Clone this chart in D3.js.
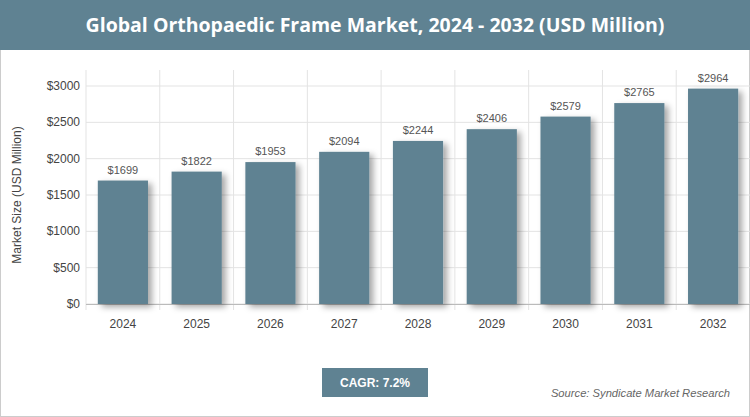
<!DOCTYPE html><html><head><meta charset="utf-8">
<script src="https://cdn.jsdelivr.net/npm/d3@7"></script>
<style>body{margin:0;font-family:"Liberation Sans",Arial,sans-serif}</style></head><body>
<svg id="c" width="750" height="417"></svg>
<script>
const years=["2024","2025","2026","2027","2028","2029","2030","2031","2032"];
const values=[1699,1822,1953,2094,2244,2406,2579,2765,2964];
const yTicks=[0,500,1000,1500,2000,2500,3000];
const title="Global Orthopaedic Frame Market, 2024 - 2032 (USD Million)";
const svg=d3.select("#c");
const col="#5f8292";
svg.append("rect").attr("x",0.5).attr("y",0.5).attr("width",749).attr("height",416).attr("fill","#fff").attr("stroke","#ccc");
svg.append("rect").attr("width",750).attr("height",50).attr("fill",col);
svg.append("text").attr("x",375).attr("y",32).attr("text-anchor","middle").attr("fill","#fff").attr("font-size",19.5).attr("font-family","'Open Sans',sans-serif").attr("font-weight","bold").text(title);
const defs=svg.append("defs");
const f=defs.append("filter").attr("id","sh").attr("x","-20%").attr("y","-20%").attr("width","150%").attr("height","150%");
f.append("feDropShadow").attr("dx",4).attr("dy",3).attr("stdDeviation",3).attr("flood-color","#000").attr("flood-opacity",0.35);
const x=d3.scaleBand().domain(years).range([86,750]).paddingInner(0.32).paddingOuter(0.16);
const xg=d3.scaleBand().domain(years).range([86,750]);
const y=d3.scaleLinear().domain([0,3000]).range([304,86]);
const g=svg.append("g");
yTicks.forEach(t=>{g.append("line").attr("x1",86).attr("x2",750).attr("y1",y(t)).attr("y2",y(t)).attr("stroke","#e3e3e3");
 g.append("text").attr("x",80).attr("y",y(t)+4).attr("text-anchor","end").attr("font-size",12).attr("fill","#444").text("$"+t);});
years.forEach(d=>g.append("line").attr("x1",xg(d)).attr("x2",xg(d)).attr("y1",70).attr("y2",310).attr("stroke","#e3e3e3"));
g.append("line").attr("x1",86).attr("x2",750).attr("y1",304.5).attr("y2",304.5).attr("stroke","#bbb");
g.selectAll(".b").data(values).join("rect").attr("x",(d,i)=>x(years[i])).attr("width",x.bandwidth()).attr("y",d=>y(d)).attr("height",d=>304-y(d)).attr("fill",col).attr("filter","url(#sh)");
g.selectAll(".l").data(values).join("text").attr("x",(d,i)=>x(years[i])+x.bandwidth()/2).attr("y",d=>y(d)-7).attr("text-anchor","middle").attr("font-size",11).attr("fill","#555").text(d=>"$"+d);
years.forEach(d=>g.append("text").attr("x",xg(d)+xg.bandwidth()/2).attr("y",328).attr("text-anchor","middle").attr("font-size",12).attr("fill","#444").text(d));
svg.append("text").attr("transform","translate(21,195) rotate(-90)").attr("text-anchor","middle").attr("font-size",12).attr("fill","#444").text("Market Size (USD Million)");
svg.append("rect").attr("x",322).attr("y",368).attr("width",106).attr("height",29).attr("fill",col);
svg.append("text").attr("x",375).attr("y",387).attr("text-anchor","middle").attr("fill","#fff").attr("font-size",12).attr("font-weight","bold").text("CAGR: 7.2%");
svg.append("text").attr("x",730).attr("y",397).attr("text-anchor","end").attr("fill","#666").attr("font-size",11.2).attr("font-style","italic").text("Source: Syndicate Market Research");
</script></body></html>
